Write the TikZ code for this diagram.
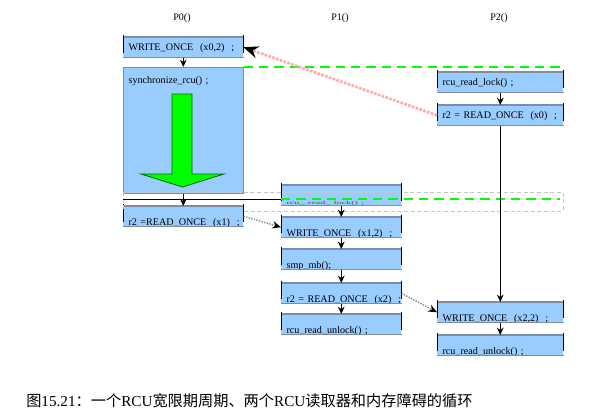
\documentclass[tikz,border=0pt]{standalone}
\usepackage{fontspec}
\setmainfont{Liberation Serif}
\newfontfamily\cjk{Noto Sans CJK SC}
\usepackage{graphicx}
\usetikzlibrary{arrows.meta}

\definecolor{boxblue}{RGB}{153,204,255}
\definecolor{boxedge}{RGB}{128,140,160}
\definecolor{lockgreen}{RGB}{0,255,0}
\definecolor{dotpink}{RGB}{255,170,170}

\tikzset{
	stmt/.style={fill=boxblue, anchor=north west, inner xsep=4pt, inner ysep=0.75pt,
		text width=#1, align=left, font=\fontsize{7.6}{8}\selectfont,
		text height=9.5pt, text depth=4pt},
	stmt/.default=82pt,
	stmt low/.style={stmt=#1, text height=13.5pt, text depth=0pt},
	stmt low/.default=82pt,
	flow/.style={-{Stealth[length=5.5pt,width=5pt]}, line width=1pt},
	cross/.style={densely dotted, gray, line width=1pt, -{Stealth[length=6.5pt,width=5.5pt,color=black]}},
	gp line/.style={lockgreen, dash pattern=on 7pt off 4.5pt, line width=1.5pt},
	title/.style={font=\fontsize{7.5}{8}\selectfont}
}

\begin{document}
\begin{tikzpicture}[x=0.75pt,y=0.75pt,yscale=-1,xscale=1]
	\useasboundingbox (0,0) rectangle (592,415);
	
	% Text Node
	\node[title] (p0) at (182,18) {P0()};
	% Text Node
	\node[title] (p1) at (340,18) {P1()};
	% Text Node
	\node[title] (p2) at (499,18) {P2()};
	
	%Shape: Rectangle P0
	\node[stmt] (w0) at (123,37) {WRITE\_ONCE~~(x0,2)~~;};
	\node[stmt, text height=11.75pt, text depth=81.25pt] (s0) at (123,67) {synchronize\_rcu()~;};
	\node[stmt low] (r1) at (123,206) {r2~=READ\_ONCE~~(x1)~~;};
	%Shape: Rectangle P1
	\node[stmt low] (l1) at (281,185) {\textcolor{black!70}{\scalebox{1}[0.45]{rcu\_\ read\_\ lock() ;}}};
	\node[stmt low] (w1) at (281,217) {WRITE\_ONCE~~(x1,2)~~;};
	\node[stmt low] (sm) at (281,249) {smp\_mb();};
	\node[stmt low] (r12) at (281,283) {r2~=~READ\_ONCE~~(x2)~~;};
	\node[stmt low] (u1) at (281,314) {rcu\_read\_unlock()~;};
	%Shape: Rectangle P2
	\node[stmt=86.5pt] (l2) at (437,72) {rcu\_read\_lock()~;};
	\node[stmt=86.5pt] (r0) at (437,105) {r2~=~READ\_ONCE~~(x0)~~;};
	\node[stmt low=86.5pt] (w2) at (437,302) {WRITE\_ONCE~~(x2,2)~~;};
	\node[stmt low=86.5pt] (u2) at (437,335) {rcu\_read\_unlock()~;};
	
	% box edges
	\draw[boxedge, line width=0.6pt] (s0.north west) rectangle (s0.south east);
	\foreach \n in {w0,r1,l1,w1,sm,r12,u1,l2,r0,w2,u2} {
		\draw[boxedge, line width=1.2pt] (\n.north west) -- (\n.north east);
		\draw[boxedge, line width=0.6pt] (\n.south west) -- (\n.south east);
		\draw[line width=0.7pt] ([yshift=-1.5pt]\n.north west) -- ([yshift=-3.5pt]\n.south west);
		\draw[line width=0.7pt] ([yshift=-1.5pt]\n.north east) -- ([yshift=-3.5pt]\n.south east);
	}
	
	%Shape: Arrow (grace period)
	\draw[fill=lockgreen, draw=green!40!black, line width=0.6pt] (172,94) -- (192,94) -- (192,174) -- (224,174) -- (182.5,187) -- (141,174) -- (172,174) -- cycle;
	
	%Straight Lines
	\draw[densely dashed, gray!45, line width=0.4pt] (123,192) rectangle (563,211);
	\draw[line width=0.7pt] (123,199) -- (281,199);
	\draw[gp line] (281,199) -- (560,199);
	\draw[gp line] (s0.north east) -- (565,67);
	
	%Straight Lines (program order)
	\draw[flow] (w0.south) -- (s0.north);
	\draw[flow] (s0.south) -- (r1.north);
	\draw[flow] (l1.south) -- (w1.north);
	\draw[flow] (w1.south) -- (sm.north);
	\draw[flow] (sm.south) -- (r12.north);
	\draw[flow] (r12.south) -- (u1.north);
	\draw[flow] (l2.south) -- (r0.north);
	\draw[flow] (r0.south) -- (w2.north);
	\draw[flow] (w2.south) -- (u2.north);
	
	%Straight Lines (reads-from)
	\draw[dotpink, densely dotted, line width=2pt, -{Stealth[length=11pt,width=9pt,color=black]}] (r0.west) -- (w0.east);
	\draw[cross] (r1.east) -- (w1.west);
	\draw[cross] (r12.east) -- (w2.west);
	
	% Text Node
	\node[anchor=base west, inner sep=0pt, font=\fontsize{11.4}{13}\selectfont] (cap) at (26,406) {{\cjk 图}15.21{\cjk ：一个}RCU{\cjk 宽限期周期、两个}RCU{\cjk 读取器和内存障碍的循环}};
\end{tikzpicture}
\end{document}
